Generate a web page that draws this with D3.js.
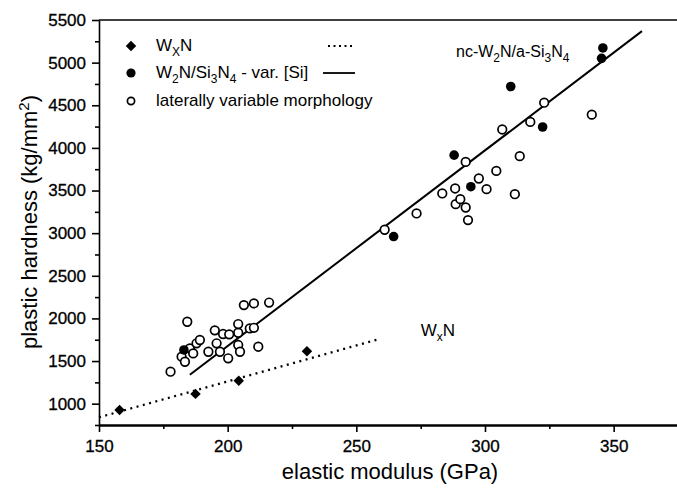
<!DOCTYPE html>
<html>
<head>
<meta charset="utf-8">
<script src="https://cdn.jsdelivr.net/npm/d3@7"></script>
<style>
  body { margin: 0; background: #fff; }
  svg { display: block; font-family: "Liberation Sans", Arial, sans-serif; }
</style>
</head>
<body>
<div id="chart"></div>
<script>
// Data (elastic modulus GPa, plastic hardness kg/mm2)
const wxnPoints = [[158, 925], [187.5, 1115], [204.3, 1268], [230.8, 1615]];
const nanoPoints = [[183, 1630], [264.5, 2960], [288, 3915], [294.5, 3545], [310, 4720], [322.4, 4245], [345.8, 5172], [345.3, 5050]];
const openPoints = [
  [177.8, 1375], [182.1, 1551], [183.4, 1492], [184.3, 1961], [185.3, 1649], [186.6, 1590],
  [187.9, 1708], [189.2, 1747], [192.5, 1609], [195.0, 1860], [195.7, 1708], [197.0, 1609],
  [198.2, 1817], [200.2, 1532], [200.6, 1813], [204.1, 1688], [204.1, 1832], [204.1, 1934],
  [204.8, 1609], [206.3, 2156], [208.6, 1883], [210.2, 1890], [210.2, 2176], [211.9, 1668],
  [216.1, 2186],
  [261, 3040], [273.4, 3231], [283.4, 3466], [288.4, 3524], [288.6, 3340], [290.4, 3399],
  [292.5, 3301], [293.4, 3153], [292.5, 3836], [297.6, 3641], [300.6, 3516], [304.4, 3730],
  [306.7, 4216], [311.6, 3457], [313.5, 3903], [317.6, 4305], [323, 4530], [341.5, 4390]
];
const wxnFit = [[150, 840], [258, 1750]];
const nanoFit = [[185.3, 1340], [361, 5370]];
const xTicks = [150, 200, 250, 300, 350];
const xMinor = [175, 225, 275, 325, 375];
const yTicks = [1000, 1500, 2000, 2500, 3000, 3500, 4000, 4500, 5000, 5500];
const yMinor = [750, 1250, 1750, 2250, 2750, 3250, 3750, 4250, 4750, 5250];

const width = 677, height = 488;
const svg = d3.select('#chart').append('svg')
  .attr('width', width).attr('height', height);

const x = d3.scaleLinear().domain([150, 375]).range([99, 678]);
const y = d3.scaleLinear().domain([750, 5500]).range([425, 20]);

// top frame line
svg.append('line')
  .attr('x1', x(150)).attr('x2', width).attr('y1', y(5500)).attr('y2', y(5500))
  .attr('stroke', '#000').attr('stroke-width', 1.6);

// axes
const xAxis = svg.append('g').attr('transform', `translate(0,${y(750)})`)
  .call(d3.axisBottom(x).tickValues(xTicks).tickSize(7).tickSizeOuter(0).tickPadding(8));
const xMinorAxis = svg.append('g').attr('transform', `translate(0,${y(750)})`)
  .call(d3.axisBottom(x).tickValues(xMinor).tickSize(4).tickFormat(''));
const yAxis = svg.append('g').attr('transform', `translate(${x(150)},0)`)
  .call(d3.axisLeft(y).tickValues(yTicks).tickFormat(d3.format('d')).tickSize(7).tickSizeOuter(0).tickPadding(6));
const yMinorAxis = svg.append('g').attr('transform', `translate(${x(150)},0)`)
  .call(d3.axisLeft(y).tickValues(yMinor).tickSize(4).tickFormat(''));

[xAxis, xMinorAxis, yAxis, yMinorAxis].forEach(g => {
  g.selectAll('.tick line').attr('stroke', '#000').attr('stroke-width', 1.6);
  g.selectAll('.tick text').attr('fill', '#000').attr('stroke', '#000').attr('stroke-width', 0.3)
    .style('font-size', '17px')
    .style('font-family', '"Liberation Sans", Arial, sans-serif');
});
xMinorAxis.select('.domain').remove();
yMinorAxis.select('.domain').remove();
xAxis.select('.domain').attr('stroke', '#000').attr('stroke-width', 2.6);
yAxis.select('.domain').attr('stroke', '#000').attr('stroke-width', 1.6);

// axis titles
svg.append('text')
  .attr('x', 390).attr('y', 479)
  .attr('text-anchor', 'middle').style('font-size', '22px')
  .text('elastic modulus (GPa)');

const yTitle = svg.append('text')
  .attr('transform', `translate(37,222) rotate(-90)`)
  .attr('text-anchor', 'middle').style('font-size', '22px');
yTitle.append('tspan').text('plastic hardness (kg/mm');
yTitle.append('tspan').attr('dy', -8).style('font-size', '15px').text('2');
yTitle.append('tspan').attr('dy', 8).text(')');

// fit lines
const line = d3.line().x(d => x(d[0])).y(d => y(d[1]));
svg.append('path').datum(wxnFit).attr('d', line)
  .attr('fill', 'none').attr('stroke', '#000').attr('stroke-width', 2.2)
  .attr('stroke-dasharray', '2,4.5');
svg.append('path').datum(nanoFit).attr('d', line)
  .attr('fill', 'none').attr('stroke', '#000').attr('stroke-width', 2);

// markers
const diamond = d3.symbol().type(d3.symbolDiamond2).size(70);
svg.selectAll('.wxn').data(wxnPoints).enter().append('path')
  .attr('class', 'wxn')
  .attr('transform', d => `translate(${x(d[0])},${y(d[1])})`)
  .attr('d', diamond).attr('fill', '#000');

svg.selectAll('.open').data(openPoints).enter().append('circle')
  .attr('class', 'open')
  .attr('cx', d => x(d[0])).attr('cy', d => y(d[1])).attr('r', 4.3)
  .attr('fill', '#fff').attr('stroke', '#000').attr('stroke-width', 1.7);

svg.selectAll('.nano').data(nanoPoints).enter().append('circle')
  .attr('class', 'nano')
  .attr('cx', d => x(d[0])).attr('cy', d => y(d[1])).attr('r', 4.8)
  .attr('fill', '#000');

// legend
const legend = svg.append('g').style('font-size', '17px');
legend.append('path').attr('transform', 'translate(131,46)').attr('d', diamond).attr('fill', '#000');
legend.append('circle').attr('cx', 131).attr('cy', 73).attr('r', 4.6).attr('fill', '#000');
legend.append('circle').attr('cx', 131).attr('cy', 101).attr('r', 3.6)
  .attr('fill', '#fff').attr('stroke', '#000').attr('stroke-width', 1.7);

function sub(t, s) {
  t.append('tspan').attr('dy', 5).style('font-size', '12px').text(s);
}
const l1 = legend.append('text').attr('x', 156).attr('y', 51);
l1.append('tspan').text('W');
sub(l1, 'X');
l1.append('tspan').attr('dy', -5).text('N');

const l2 = legend.append('text').attr('x', 156).attr('y', 78);
l2.append('tspan').text('W');
sub(l2, '2');
l2.append('tspan').attr('dy', -5).text('N/Si');
sub(l2, '3');
l2.append('tspan').attr('dy', -5).text('N');
sub(l2, '4');
l2.append('tspan').attr('dy', -5).text(' - var. [Si]');

legend.append('text').attr('x', 156).attr('y', 106).text('laterally variable morphology');

legend.append('line').attr('x1', 328).attr('x2', 355).attr('y1', 46).attr('y2', 46)
  .attr('stroke', '#000').attr('stroke-width', 2).attr('stroke-dasharray', '2,3.5');
legend.append('line').attr('x1', 323).attr('x2', 355).attr('y1', 73).attr('y2', 73)
  .attr('stroke', '#000').attr('stroke-width', 1.8);

// annotations
const a1 = svg.append('text').attr('x', 456).attr('y', 57).style('font-size', '16px');
a1.append('tspan').text('nc-W');
sub(a1, '2');
a1.append('tspan').attr('dy', -5).text('N/a-Si');
sub(a1, '3');
a1.append('tspan').attr('dy', -5).text('N');
sub(a1, '4');

const a2 = svg.append('text').attr('x', x(275)).attr('y', 336).style('font-size', '17px');
a2.append('tspan').text('W');
sub(a2, 'x');
a2.append('tspan').attr('dy', -5).text('N');
</script>
</body>
</html>
